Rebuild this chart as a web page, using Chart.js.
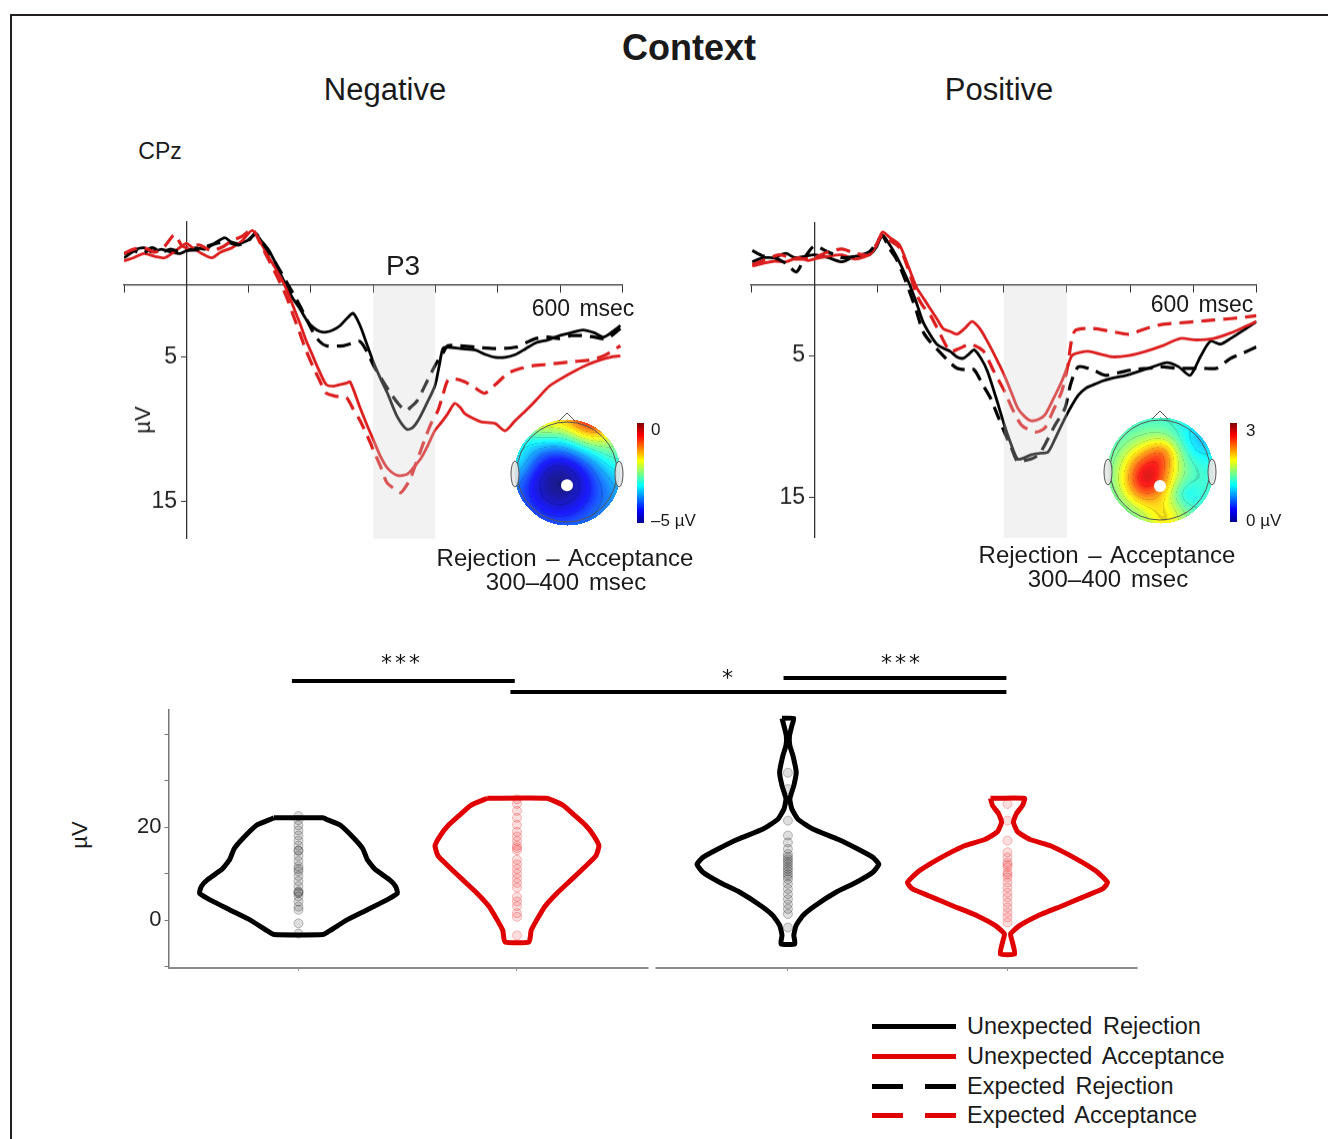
<!DOCTYPE html>
<html>
<head>
<meta charset="utf-8">
<script src="https://cdn.jsdelivr.net/npm/chart.js@4.4.0/dist/chart.umd.min.js"></script>
<style>
html, body { margin: 0; padding: 0; background: #fff; }
body { width: 1328px; height: 1139px; overflow: hidden; position: relative; font-family: "Liberation Sans", Arial, sans-serif; color: #1a1a1a; }
#frame { position: absolute; left: 10px; top: 14px; width: 1400px; height: 1200px; border-left: 2.5px solid #231f20; border-top: 2.5px solid #231f20; }
.t { position: absolute; white-space: nowrap; line-height: 1; transform: translate(-50%, -50%); }
.l { position: absolute; white-space: nowrap; line-height: 1; transform: translateY(-50%); }
.wrap { position: absolute; }
.bar { position: absolute; width: 7px; background: linear-gradient(to top, #00008f 0%, #0000ff 12.5%, #00ffff 37.5%, #ffff00 62.5%, #ff0000 87.5%, #800000 100%); }
.ln { position: absolute; height: 5px; }
</style>
</head>
<body>
<div id="frame"></div>

<div class="t" style="left:689px; top:48px; font-size:36px; font-weight:bold;">Context</div>
<div class="t" style="left:385px; top:89px; font-size:31px;">Negative</div>
<div class="t" style="left:999px; top:89px; font-size:31px;">Positive</div>
<div class="t" style="left:160px; top:151px; font-size:23px;">CPz</div>

<div class="wrap" id="wNeg"><canvas id="erpNeg"></canvas></div>
<div class="wrap" id="wPos"><canvas id="erpPos"></canvas></div>
<div class="wrap" id="wVio"><canvas id="violin"></canvas></div>

<div class="t" style="left:403px; top:266px; font-size:28px;">P3</div>
<div class="t" style="left:583px; top:308px; font-size:23px; word-spacing:3px;">600 msec</div>
<div class="t" style="left:1202px; top:304px; font-size:23px; word-spacing:3px;">600 msec</div>
<div class="t" style="left:143px; top:420px; font-size:22px; transform:translate(-50%,-50%) rotate(-90deg);">&micro;V</div>
<div class="t" style="left:80px; top:835px; font-size:22px; transform:translate(-50%,-50%) rotate(-90deg);">&micro;V</div>

<canvas id="topoNeg" width="140" height="140" style="position:absolute; left:497px; top:402px;"></canvas>
<canvas id="topoPos" width="140" height="140" style="position:absolute; left:1090px; top:400px;"></canvas>
<div class="bar" style="left:637px; top:423px; height:100px;"></div>
<div class="bar" style="left:1230px; top:423px; height:99px;"></div>
<div class="l" style="left:651px; top:429px; font-size:17px;">0</div>
<div class="l" style="left:651px; top:520px; font-size:17px;">&ndash;5 &micro;V</div>
<div class="l" style="left:1246px; top:430px; font-size:17px;">3</div>
<div class="l" style="left:1246px; top:520px; font-size:17px;">0 &micro;V</div>

<div class="t" style="left:565px; top:558px; font-size:24px; word-spacing:3px;">Rejection &ndash; Acceptance</div>
<div class="t" style="left:566px; top:582px; font-size:24px; word-spacing:3px;">300&ndash;400 msec</div>
<div class="t" style="left:1107px; top:555px; font-size:24px; word-spacing:3px;">Rejection &ndash; Acceptance</div>
<div class="t" style="left:1108px; top:579px; font-size:24px; word-spacing:3px;">300&ndash;400 msec</div>

<div class="ln" style="left:872px; top:1024px; width:84px; background:#000;"></div>
<div class="ln" style="left:872px; top:1054px; width:84px; background:#e00000;"></div>
<div class="ln" style="left:872px; top:1084px; width:31px; background:#000;"></div>
<div class="ln" style="left:925px; top:1084px; width:31px; background:#000;"></div>
<div class="ln" style="left:872px; top:1113px; width:31px; background:#e00000;"></div>
<div class="ln" style="left:925px; top:1113px; width:31px; background:#e00000;"></div>
<div class="l" style="left:967px; top:1027px; font-size:23.5px; word-spacing:4px;">Unexpected Rejection</div>
<div class="l" style="left:967px; top:1057px; font-size:23.5px; word-spacing:4px;">Unexpected Acceptance</div>
<div class="l" style="left:967px; top:1087px; font-size:23.5px; word-spacing:4px;">Expected Rejection</div>
<div class="l" style="left:967px; top:1116px; font-size:23.5px; word-spacing:4px;">Expected Acceptance</div>

<script>
// ERP waveforms, CPz, [msec, microvolt]
const negUR = [[-100,-1.9],[-90,-2.2],[-80,-2.5],[-68,-2.6],[-55,-2.3],[-40,-2.5],[-25,-2.3],[-10,-2.2],[0,-2.4],[15,-2.6],[30,-2.5],[45,-2.9],[62,-3.3],[72,-3.0],[84,-2.9],[98,-3.1],[111,-3.5],[122,-3.0],[133,-2.4],[147,-1.2],[160,0.0],[171,0.9],[182,1.6],[193,2.4],[203,2.9],[214,3.2],[225,3.25],[236,3.1],[247,2.8],[258,2.3],[268,1.95],[279,2.8],[290,4.1],[301,5.4],[312,6.5],[323,7.5],[339,9.15],[354,10.0],[363,9.9],[372,9.4],[385,8.3],[399,7.0],[406,5.6],[412,4.4],[420,4.3],[440,4.4],[464,4.5],[480,4.8],[496,5.0],[512,5.0],[529,4.8],[545,4.4],[561,4.0],[580,3.8],[599,3.5],[618,3.3],[637,3.1],[655,3.3],[670,3.6],[685,3.2],[697,2.8]];
const negER = [[-100,-2.2],[-85,-2.4],[-70,-2.2],[-55,-2.6],[-40,-2.3],[-25,-2.5],[-10,-2.3],[0,-2.4],[20,-2.5],[40,-2.8],[62,-3.0],[84,-2.8],[100,-3.1],[111,-3.6],[125,-2.8],[140,-1.8],[160,-0.3],[182,1.4],[203,3.2],[214,3.9],[225,4.2],[252,4.2],[268,4.0],[279,3.9],[290,4.6],[301,5.6],[315,6.6],[328,7.5],[340,8.2],[352,8.7],[362,8.4],[371,8.0],[385,6.8],[399,5.6],[406,5.1],[412,4.7],[420,4.2],[440,4.2],[464,4.3],[496,4.4],[529,4.3],[545,4.0],[561,3.7],[580,3.6],[599,3.7],[618,3.5],[637,3.5],[655,3.6],[675,3.7],[697,3.0]];
const negUA = [[-100,-1.7],[-85,-1.9],[-68,-2.2],[-50,-2.0],[-35,-1.9],[-20,-2.3],[0,-2.9],[10,-2.6],[25,-2.2],[41,-1.9],[55,-2.3],[73,-2.6],[90,-3.1],[106,-3.8],[120,-2.9],[133,-1.9],[147,-0.9],[160,0.2],[171,1.4],[182,2.6],[192,3.8],[203,4.9],[214,6.0],[225,6.9],[236,7.0],[246,6.9],[257,6.8],[263,6.7],[279,8.5],[290,9.7],[301,10.8],[312,11.9],[323,12.7],[339,13.2],[355,13.1],[366,12.6],[377,12.0],[388,11.1],[399,10.1],[410,9.5],[420,8.9],[431,8.2],[440,8.5],[447,8.9],[463,9.3],[474,9.5],[496,9.6],[512,10.1],[528,9.4],[545,8.7],[561,8.0],[583,7.0],[605,6.4],[626,5.9],[645,5.5],[664,5.2],[680,5.0],[697,4.9]];
const negEA = [[-100,-2.2],[-85,-2.5],[-68,-2.6],[-50,-2.3],[-35,-2.7],[-19,-3.5],[-8,-2.8],[0,-2.6],[20,-2.8],[41,-2.4],[60,-2.7],[73,-3.1],[90,-3.4],[106,-3.9],[120,-2.8],[133,-1.7],[147,-0.5],[160,0.7],[171,2.0],[182,3.3],[192,4.5],[203,5.6],[214,6.6],[225,7.5],[240,7.7],[257,7.8],[268,8.6],[279,9.4],[290,10.4],[301,11.5],[312,12.6],[322,13.7],[333,14.1],[344,14.4],[352,14.0],[360,13.4],[371,12.1],[382,10.8],[393,9.6],[404,8.7],[412,7.6],[420,6.6],[431,6.5],[447,6.7],[463,7.1],[479,7.5],[496,6.9],[517,6.1],[535,5.8],[555,5.6],[577,5.5],[599,5.4],[620,5.3],[647,5.2],[670,4.9],[697,4.2]];

const posUR = [[-98,-1.6],[-80,-1.9],[-63,-1.9],[-45,-2.2],[-31,-1.9],[-15,-2.0],[0,-2.1],[22,-1.9],[44,-1.6],[65,-2.0],[87,-2.1],[98,-2.6],[108,-3.5],[118,-2.9],[129,-2.1],[140,-1.1],[151,0.0],[162,1.3],[172,2.6],[183,3.5],[194,4.2],[205,4.5],[215,4.7],[226,5.1],[236,5.2],[245,4.9],[253,4.6],[264,5.2],[274,6.1],[288,8.0],[301,9.9],[312,11.3],[322,12.3],[333,12.2],[343,12.0],[356,11.9],[370,11.8],[384,10.6],[397,9.4],[408,8.5],[418,7.8],[430,7.3],[440,7.1],[456,6.8],[472,6.6],[494,6.4],[515,6.1],[536,5.8],[558,5.5],[577,5.8],[595,6.4],[611,5.1],[627,4.0],[643,4.2],[659,3.8],[680,3.2],[700,2.6]];
const posER = [[-98,-2.4],[-80,-2.0],[-63,-1.9],[-45,-1.5],[-28,-0.9],[-15,-1.9],[0,-2.7],[22,-2.3],[44,-1.9],[65,-2.0],[87,-2.3],[108,-3.4],[118,-2.6],[129,-1.9],[140,-0.8],[151,0.5],[162,1.9],[172,3.3],[183,4.0],[204,5.0],[215,5.5],[226,5.9],[240,6.0],[253,6.0],[266,7.0],[279,8.0],[290,9.2],[301,10.4],[312,11.5],[322,12.5],[333,12.4],[343,12.3],[355,12.0],[365,11.3],[380,10.0],[397,8.7],[406,7.0],[418,5.8],[440,6.0],[461,6.4],[483,6.2],[504,6.0],[530,5.9],[552,5.8],[573,5.9],[595,5.9],[616,5.9],[637,5.9],[659,5.2],[680,4.8],[700,4.4]];
const posUA = [[-98,-1.3],[-80,-1.5],[-63,-1.65],[-45,-1.6],[-25,-1.9],[-10,-1.7],[0,-1.8],[22,-2.0],[44,-2.1],[65,-1.8],[87,-2.1],[98,-2.7],[108,-3.7],[120,-3.3],[135,-2.8],[148,-1.4],[162,0.2],[172,0.9],[183,1.65],[194,2.4],[204,3.1],[215,3.3],[226,3.5],[238,3.1],[250,2.6],[262,3.1],[274,4.0],[288,5.2],[301,6.4],[312,7.6],[322,8.7],[333,9.3],[343,9.6],[355,9.5],[365,9.2],[378,8.1],[392,6.8],[400,5.9],[408,5.0],[420,4.8],[434,4.7],[452,4.9],[472,5.1],[498,5.0],[525,4.7],[552,4.3],[579,3.8],[605,3.9],[632,3.8],[660,3.4],[680,3.0],[700,2.6]];
const posEA = [[-98,-1.4],[-80,-1.7],[-55,-2.1],[-30,-1.8],[0,-1.9],[22,-2.3],[44,-2.5],[65,-2.2],[87,-2.1],[98,-2.8],[108,-3.5],[120,-3.1],[135,-2.6],[148,-1.2],[162,0.7],[172,1.5],[183,2.1],[194,3.0],[215,4.7],[230,4.5],[247,4.2],[268,4.7],[283,6.0],[301,7.5],[312,8.6],[328,9.9],[350,10.4],[365,10.1],[378,8.9],[392,7.5],[401,5.8],[412,3.3],[440,3.1],[470,3.3],[498,3.5],[525,3.1],[552,2.8],[579,2.7],[606,2.6],[632,2.5],[659,2.4],[680,2.3],[700,2.2]];

const timeTicks = [-100, 0, 100, 200, 300, 400, 500, 600, 700];
const uvTicks = [5, 15];
const window300 = [300, 400];

// violins: [microvolt, half width], and single subject values
const negRejShape = [[22,0.112],[21.5,0.137],[20.4,0.192],[17.5,0.256],[15.3,0.295],[13.1,0.314],[10.9,0.351],[8.7,0.416],[7.3,0.444],[5.8,0.453],[4.4,0.407],[2.2,0.314],[0,0.22],[-2.2,0.146],[-3.1,0.112]];
const negAccShape = [[26.2,0.136],[24.7,0.211],[22.5,0.265],[20.4,0.314],[18.2,0.351],[16,0.375],[13.8,0.361],[11.6,0.314],[8.7,0.249],[5.8,0.183],[2.9,0.127],[0,0.09],[-2.2,0.065],[-4.7,0.055]];
const posRejShape = [[43.4,0.027],[41.8,0.018],[39.6,0.007],[37.5,0.009],[35.4,0.023],[31.8,0.038],[28.9,0.027],[26.1,0.009],[23.9,0.018],[21.7,0.046],[19.6,0.114],[17.4,0.229],[15.3,0.32],[13.5,0.389],[12,0.416],[10.3,0.389],[8.1,0.311],[6,0.22],[3.1,0.124],[1,0.069],[-1.2,0.037],[-3.3,0.027],[-5.1,0.032]];
const posAccShape = [[26.2,0.078],[24.7,0.069],[22.9,0.041],[21.1,0.027],[19,0.046],[17.4,0.101],[16,0.197],[14.2,0.275],[12.4,0.343],[10.3,0.412],[8.1,0.458],[6.7,0.435],[4.9,0.343],[3.1,0.252],[0.9,0.137],[-1.2,0.055],[-3,0.014],[-4.8,0.023],[-7.3,0.033]];

const negRejPts = [22.4,21.5,20.4,19.3,18.2,17.1,16,15,14.9,13.8,12.7,11.6,11,10.5,9.5,8.4,7.3,6.2,6,5.8,5.1,4,2.9,2.2,-0.7,-2.9];
const negAccPts = [26,25,23.5,22,20.5,19,18,17,16,15.5,15,13,12,11,10,9,8,7,5,4,3,1.5,0.7,-3.3];
const posRejPts = [31.7,28.2,21.4,18.2,16.7,15.3,14.2,13.6,13.1,12.6,12.1,11.5,11,10.5,9.9,9.4,8.8,7.8,6.7,5.6,4.5,3.4,2.4,1.3,-1.6];
const posAccPts = [25,21.4,17.1,14.6,13.5,12.4,11.9,11.4,10.3,9.8,9.2,8.1,7.0,5.9,4.9,3.8,2.7,1.6,0.6,-0.5];

const groupX = [1, 2, 3.24, 4.245];
const violinTicks = [-10, 0, 10, 20, 30, 40];
const violinLabels = [0, 20];

const BLACK = '#000000';
const RED = '#dc1e1e';
const VRED = '#e00000';

// shaded 300-400 msec window, drawn over the waveforms
const shadePlugin = {
  id: 'shade',
  afterDatasetsDraw(chart) {
    const {ctx, chartArea, scales} = chart;
    const x1 = scales.x.getPixelForValue(window300[0]);
    const x2 = scales.x.getPixelForValue(window300[1]);
    const y0 = scales.y.getPixelForValue(0) + 1;
    ctx.save();
    ctx.fillStyle = 'rgba(212,212,212,0.3)';
    ctx.fillRect(x1, y0, x2 - x1, chartArea.bottom - y0);
    ctx.restore();
  }
};

function wave(points, color, dashed) {
  return {
    data: points.map(p => ({x: p[0], y: p[1]})),
    showLine: true,
    borderColor: color,
    borderWidth: dashed ? 3.2 : 2.8,
    borderDash: dashed ? [14, 8] : [],
    pointRadius: 0,
    tension: 0.25
  };
}

function erpConfig(series, ymin, ymax) {
  return {
    type: 'scatter',
    data: { datasets: series },
    options: {
      responsive: true,
      maintainAspectRatio: false,
      animation: false,
      events: [],
      plugins: { legend: { display: false }, tooltip: { enabled: false } },
      scales: {
        x: {
          type: 'linear', min: -100, max: 700, position: { y: 0 },
          grid: { drawOnChartArea: false, tickLength: 7, color: '#333' },
          border: { color: '#333', width: 1.3 },
          ticks: { callback: () => '' },
          afterBuildTicks: ax => { ax.ticks = timeTicks.map(v => ({value: v})); }
        },
        y: {
          type: 'linear', reverse: true, min: ymin, max: ymax, position: { x: 0 },
          grid: { drawOnChartArea: false, tickLength: 5, color: '#333' },
          border: { color: '#333', width: 1.3 },
          // labels sit on the axis when it is placed at x = 0, so pad them with thin spaces
          ticks: { color: '#222', font: { size: 23, family: '"Liberation Sans", Arial' },
            callback: v => v + '\u2009\u2009' },
          afterBuildTicks: ax => { ax.ticks = uvTicks.map(v => ({value: v})); }
        }
      }
    },
    plugins: [shadePlugin]
  };
}

// move/resize the wrapper so the plot area lands on the given page box
function place(wrapId, chart, box) {
  const wrap = document.getElementById(wrapId);
  for (let k = 0; k < 2; k++) {
    const a = chart.chartArea;
    const pl = a.left, pt = a.top, pr = chart.width - a.right, pb = chart.height - a.bottom;
    wrap.style.left = (box.left - pl) + 'px';
    wrap.style.top = (box.top - pt) + 'px';
    wrap.style.width = (box.right - box.left + pl + pr) + 'px';
    wrap.style.height = (box.bottom - box.top + pt + pb) + 'px';
    chart.resize();
  }
}

['wNeg', 'wPos', 'wVio'].forEach(id => {
  const w = document.getElementById(id);
  w.style.left = '0px'; w.style.top = '0px'; w.style.width = '600px'; w.style.height = '400px';
});

const negChart = new Chart(document.getElementById('erpNeg'), erpConfig([
  wave(negEA, RED, true), wave(negER, BLACK, true), wave(negUA, RED, false), wave(negUR, BLACK, false)
], -4.4, 17.6));
place('wNeg', negChart, {left: 123.7, right: 622, top: 222, bottom: 538});

const posChart = new Chart(document.getElementById('erpPos'), erpConfig([
  wave(posEA, RED, true), wave(posER, BLACK, true), wave(posUA, RED, false), wave(posUR, BLACK, false)
], -4.35, 17.85));
place('wPos', posChart, {left: 750.5, right: 1256, top: 223, bottom: 537});

// violin outlines
function outline(shape, c) {
  const left = shape.map(s => ({x: c - s[1], y: s[0]}));
  const right = shape.slice().reverse().map(s => ({x: c + s[1], y: s[0]}));
  return left.concat(right, [left[0]]);
}
function violinSet(shape, c, color) {
  return { data: outline(shape, c), showLine: true, borderColor: color, borderWidth: 5,
    borderJoinStyle: 'round', pointRadius: 0, tension: 0.15, order: 1 };
}
function dotSet(vals, c, rgb) {
  return { data: vals.map(v => ({x: c, y: v})), pointRadius: 4.5, borderWidth: 1,
    pointBackgroundColor: 'rgba(' + rgb + ',0.13)', pointBorderColor: 'rgba(' + rgb + ',0.25)', order: 2 };
}

const axisParts = [[0.405, 2.602], [2.634, 4.84]];
const sigBars = [
  { from: 0.97, to: 1.99, dy: -29 },
  { from: 1.97, to: 4.24, dy: -18 },
  { from: 3.22, to: 4.24, dy: -32 }
];
const sigStars = [
  { x: 1.467, dy: -40, n: 3 },
  { x: 2.963, dy: -25, n: 1 },
  { x: 3.755, dy: -40, n: 3 }
];

const sigPlugin = {
  id: 'sig',
  afterDraw(chart) {
    const {ctx, chartArea, scales} = chart;
    const x = scales.x;
    ctx.save();
    ctx.strokeStyle = '#8c8c8c';
    ctx.lineWidth = 2;
    axisParts.forEach(p => {
      ctx.beginPath();
      ctx.moveTo(x.getPixelForValue(p[0]), chartArea.bottom);
      ctx.lineTo(x.getPixelForValue(p[1]), chartArea.bottom);
      ctx.stroke();
    });
    ctx.strokeStyle = '#000';
    ctx.lineWidth = 4;
    sigBars.forEach(b => {
      const y = chartArea.top + b.dy;
      ctx.beginPath();
      ctx.moveTo(x.getPixelForValue(b.from), y);
      ctx.lineTo(x.getPixelForValue(b.to), y);
      ctx.stroke();
    });
    ctx.fillStyle = '#111';
    ctx.font = '22px "DejaVu Sans", sans-serif';
    ctx.textAlign = 'center';
    ctx.textBaseline = 'alphabetic';
    sigStars.forEach(s => {
      const cx = x.getPixelForValue(s.x);
      for (let i = 0; i < s.n; i++) {
        ctx.fillText('*', cx + (i - (s.n - 1) / 2) * 14, chartArea.top + s.dy);
      }
    });
    ctx.restore();
  }
};

const vioChart = new Chart(document.getElementById('violin'), {
  type: 'scatter',
  data: {
    datasets: [
      violinSet(negRejShape, groupX[0], BLACK),
      violinSet(negAccShape, groupX[1], VRED),
      violinSet(posRejShape, groupX[2], BLACK),
      violinSet(posAccShape, groupX[3], VRED),
      dotSet(negRejPts, groupX[0], '0,0,0'),
      dotSet(negAccPts, groupX[1], '230,0,0'),
      dotSet(posRejPts, groupX[2], '0,0,0'),
      dotSet(posAccPts, groupX[3], '230,0,0')
    ]
  },
  options: {
    responsive: true,
    maintainAspectRatio: false,
    animation: false,
    events: [],
    layout: { padding: { top: 80 } },
    plugins: { legend: { display: false }, tooltip: { enabled: false } },
    scales: {
      x: {
        type: 'linear', min: 0.405, max: 4.84,
        grid: { drawOnChartArea: false, tickLength: 3, color: '#999' },
        border: { display: false },
        ticks: { callback: () => '' },
        afterBuildTicks: ax => { ax.ticks = groupX.map(v => ({value: v})); }
      },
      y: {
        type: 'linear', min: -10.3, max: 45.2,
        grid: { drawOnChartArea: false, tickLength: 4, color: '#777' },
        border: { color: '#777', width: 1.5 },
        ticks: { color: '#222', padding: 3, font: { size: 22, family: '"Liberation Sans", Arial' },
          callback: v => violinLabels.includes(v) ? String(v) : '' },
        afterBuildTicks: ax => { ax.ticks = violinTicks.map(v => ({value: v})); }
      }
    }
  },
  plugins: [sigPlugin]
});
place('wVio', vioChart, {left: 168, right: 1137, top: 710, bottom: 968});

// scalp maps (jet colour scale)
function jet(t) {
  const c = v => Math.max(0, Math.min(1, v));
  return [c(1.5 - Math.abs(4 * t - 3)) * 255, c(1.5 - Math.abs(4 * t - 2)) * 255, c(1.5 - Math.abs(4 * t - 1)) * 255];
}
function topo(id, base, blobs, dotV) {
  const cv = document.getElementById(id);
  const ctx = cv.getContext('2d');
  const S = cv.width, c = S / 2, R = 53;
  const img = ctx.createImageData(S, S);
  for (let py = 0; py < S; py++) {
    for (let px = 0; px < S; px++) {
      const u = (px - c) / R, v = (py - c) / R;
      if (u * u + v * v > 1) continue;
      let t = base;
      blobs.forEach(b => { t += b[2] * Math.exp(-((u - b[0]) ** 2 + (v - b[1]) ** 2) / (2 * b[3] * b[3])); });
      t = Math.max(0, Math.min(1, t));
      let col = jet(t);
      col = col.map(k => k * 0.9 + 255 * 0.1);
      const f = Math.abs((t * 14) % 1 - 0.5);
      if (f > 0.45) col = col.map(k => k * 0.88);
      const i = (py * S + px) * 4;
      img.data[i] = col[0]; img.data[i + 1] = col[1]; img.data[i + 2] = col[2]; img.data[i + 3] = 255;
    }
  }
  ctx.putImageData(img, 0, 0);
  ctx.strokeStyle = '#555';
  ctx.lineWidth = 1;
  ctx.beginPath(); ctx.arc(c, c, R - 3, 0, Math.PI * 2); ctx.stroke();
  ctx.beginPath(); ctx.moveTo(c - 8, c - R + 2); ctx.lineTo(c, c - R - 6); ctx.lineTo(c + 8, c - R + 2); ctx.stroke();
  [-1, 1].forEach(s => {
    ctx.fillStyle = 'rgba(230,230,230,0.9)';
    ctx.beginPath(); ctx.ellipse(c + s * (R - 1), c + 2, 4, 13, 0, 0, Math.PI * 2); ctx.fill(); ctx.stroke();
  });
  ctx.fillStyle = '#fff';
  ctx.beginPath(); ctx.arc(c, c + dotV * R, 6, 0, Math.PI * 2); ctx.fill();
}
topo('topoNeg', 0.30, [[-0.15, 0.2, -0.3, 0.55], [0.45, -1.1, 0.6, 0.42], [-0.5, -1.05, 0.3, 0.35], [1.0, -0.3, 0.12, 0.35], [-1.0, -0.25, 0.12, 0.3]], 0.25);
topo('topoPos', 0.42, [[-0.2, 0.0, 0.4, 0.38], [-0.35, 0.35, 0.15, 0.3], [0.05, -0.35, 0.12, 0.2], [0.8, -0.6, -0.11, 0.3], [0.1, 0.95, 0.2, 0.3], [0.45, 0.45, -0.08, 0.2]], 0.3);
</script>
</body>
</html>
